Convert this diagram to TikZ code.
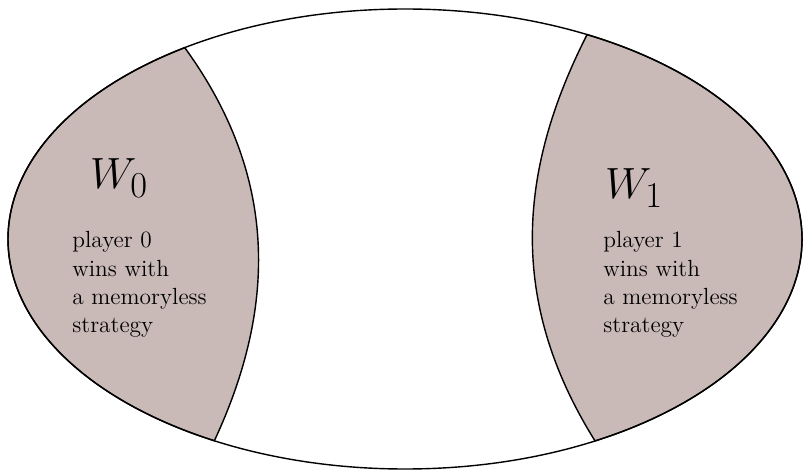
\documentclass[tikz,border=0pt]{standalone}
\usepackage{tikz}

\definecolor{vincente}{RGB}{201,185,183}

\begin{document}
\begin{tikzpicture}[x=0.02cm, y=0.02cm,
  regione/.style={fill=vincente, draw=black, line width=0.8pt},
  bordo/.style={draw=black, line width=0.8pt},
  insieme/.style={inner sep=0pt, font=\fontsize{29}{30}\selectfont},
  testo/.style={inner sep=0pt, anchor=north west, align=left,
    font=\fontsize{13.3}{16.2}\selectfont}]

\useasboundingbox (0,0) rectangle (804,470);

% punti di confine sull'arena
\coordinate (c) at (405,231);
\coordinate (a0) at ([shift={(c)}]241.3:397 and 230);
\coordinate (b0) at ([shift={(c)}]123.7:397 and 230);
\coordinate (a1) at ([shift={(c)}]-61.4:397 and 230);
\coordinate (b1) at ([shift={(c)}]62.7:397 and 230);

% regione vinta dal giocatore 0
\path[regione] (a0) to[out=65, in=-54] (b0)
  arc[start angle=123.7, end angle=241.3, x radius=397, y radius=230] -- cycle;

% regione vinta dal giocatore 1
\path[regione] (a1) to[out=122, in=243] (b1)
  arc[start angle=62.7, end angle=-61.4, x radius=397, y radius=230] -- cycle;

% arena
\draw[bordo] (c) ellipse [x radius=397, y radius=230];

% etichette
\node[insieme] (w0) at (119,292) {$W_0$};
\node[insieme] (w1) at (634,282) {$W_1$};
\node[testo] (t0) at (72,239) {player 0\\wins with\\a memoryless\\strategy};
\node[testo] (t1) at (603,239) {player 1\\wins with\\a memoryless\\strategy};

\end{tikzpicture}
\end{document}
